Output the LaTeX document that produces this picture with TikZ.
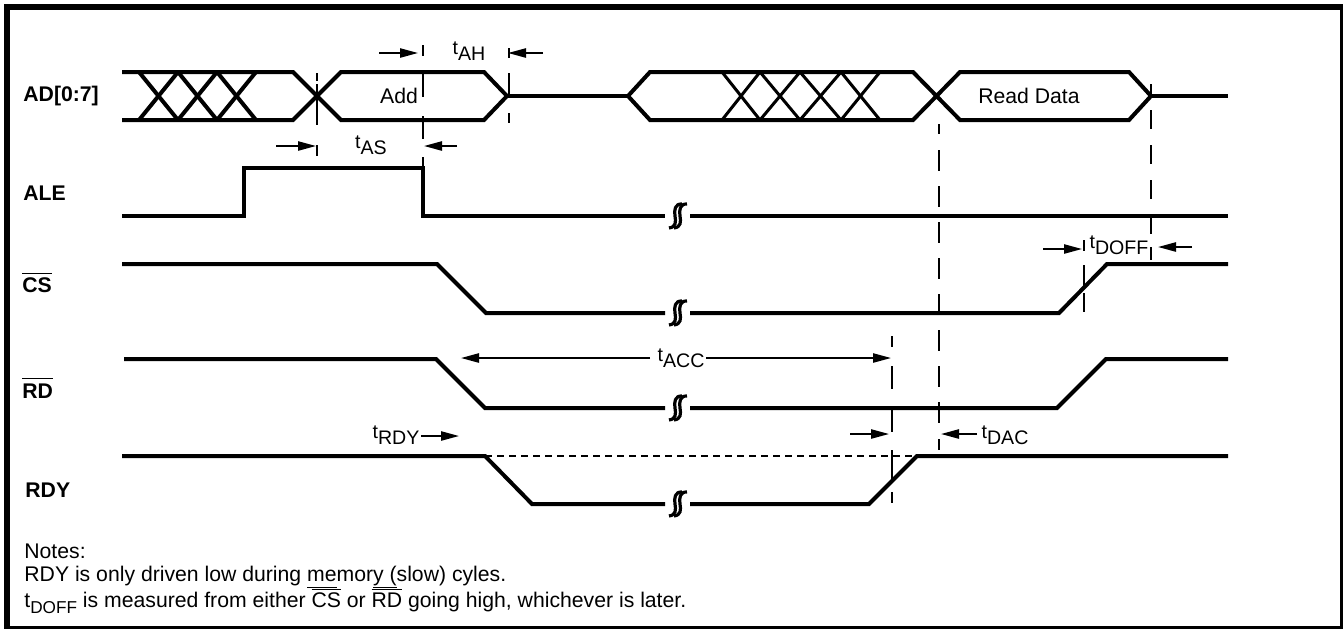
\documentclass[tikz,border=0pt]{standalone}
\usepackage{fontspec}
\setmainfont{Liberation Sans}
\usetikzlibrary{arrows.meta}

\newcommand{\tsub}[1]{t\raisebox{-0.32em}{#1}}
\newcommand{\olin}[2][0.86em]{\setbox0=\hbox{#2}\rlap{\rule[#1]{\wd0}{0.45pt}}\box0\relax}
\newcommand{\ulin}[1]{\setbox0=\hbox{#1}\rlap{\rule[-0.3em]{\wd0}{0.45pt}}\box0\relax}

\begin{document}
\begin{tikzpicture}[x=0.5pt, y=-0.5pt, line join=miter]

  % Colors and styles
  \tikzset{
    sig/.style={line width=2pt, black},
    guide/.style={line width=1pt, black},
    thinsig/.style={line width=1pt, black, dash pattern=on 3.3pt off 2.7pt},
    dim/.style={line width=0.9pt, -{Triangle[length=9pt,width=4.6pt]}},
    lab/.style={font=\bfseries\fontsize{10.6}{12}\selectfont, anchor=west, inner sep=0pt},
    txt/.style={font=\fontsize{9.8}{12}\selectfont, inner sep=0pt},
    body/.style={font=\fontsize{10.6}{12}\selectfont, inner sep=0pt},
    note/.style={font=\fontsize{10.6}{12}\selectfont, anchor=west, inner sep=0pt},
    breakmark/.pic={
      \draw[line width=1.6pt] (4,-12) .. controls (-3,-12.5) and (-4,-6) .. (-3,0) .. controls (-2,6) and (-2,11) .. (-9,12);
      \draw[line width=1.6pt] (9,-12) .. controls (2,-12.5) and (1,-6) .. (2,0) .. controls (3,6) and (3,11) .. (-4,12);
    },
  }

  \clip (0,0) rectangle (1343,628);
  \useasboundingbox (0,0) rectangle (1343,628);
  \fill[white] (0,0) rectangle (1343,628);

  % Frame
  \draw[line width=3pt] (7,7) rectangle (1343,629);

  % Guides
  \foreach \gx/\ya/\yb in {
    317/73/81, 317/84/125, 317/145/156,
    423/45/56, 423/73/97, 423/116/139, 423/157/168,
    509/48/58, 509/73/97, 509/113/123,
    939/124/134, 939/150/171, 939/186/207, 939/222/243, 939/258/279, 939/294/312,
    939/330/351, 939/366/387, 939/402/423, 939/439/450,
    892/336/347, 892/366/389, 892/410/432, 892/450/482, 892/492/503,
    1151/84/98, 1151/110/129, 1151/145/164, 1151/180/199, 1151/217/234, 1151/247/260,
    1084/240/251, 1084/265/287, 1084/293/312} {
    \draw[guide] (\gx,\ya) -- (\gx,\yb);
  }

  % AD[0:7]
  \draw[sig] (122,72) -- (293,72) -- (341,120) -- (484,120) -- (507,96) -- (484,72) -- (341,72) -- (293,120) -- (122,120);
  \foreach \xa/\xb in {139/178, 178/217, 217/256} {
    \draw[sig] (\xa,72) -- (\xb,120);
    \draw[sig] (\xb,72) -- (\xa,120);
  }
  \draw[sig] (507,96) -- (628,96);
  \draw[sig] (628,96) -- (650,72) -- (913,72) -- (960,120) -- (1129,120) -- (1151,96) -- (1129,72) -- (960,72) -- (913,120) -- (650,120) -- cycle;
  \foreach \xa/\xb in {722/760, 760/800, 800/841, 841/880} {
    \draw[line width=1.5pt] (\xa,72) -- (\xb,120);
    \draw[line width=1.5pt] (\xb,72) -- (\xa,120);
  }
  \draw[sig] (1151,96) -- (1228,96);

  % ALE
  \draw[sig] (122,216) -- (244,216) -- (244,168) -- (423,168) -- (423,216) -- (665,216);
  \draw[sig] (690,216) -- (1228,216);
  \pic at (678,216) {breakmark};

  % CS
  \draw[sig] (122,264) -- (437,264) -- (486,313) -- (665,313);
  \draw[sig] (690,313) -- (1059,313) -- (1107,264) -- (1228,264);
  \pic at (678,313) {breakmark};

  % RD
  \draw[sig] (124,359) -- (436,359) -- (485,408) -- (665,408);
  \draw[sig] (690,408) -- (1057,408) -- (1106,359) -- (1228,359);
  \pic at (678,408) {breakmark};

  % RDY
  \draw[sig] (122,456) -- (485,456) -- (532,504) -- (665,504);
  \draw[sig] (690,504) -- (869,504) -- (917,456) -- (1228,456);
  \draw[thinsig] (485,456) -- (917,456);
  \pic at (678,504) {breakmark};

  % Dimension arrows
  \draw[dim] (379,53) -- (418,53);
  \draw[dim] (543,53) -- (508,53);
  \draw[dim] (276,146) -- (316,146);
  \draw[dim] (457,146) -- (424,146);
  \draw[dim] (650,358) -- (461,358);
  \draw[dim] (706,358) -- (891,358);
  \draw[dim] (421,436) -- (459,436);
  \draw[dim] (850,434) -- (889,434);
  \draw[dim] (977,434) -- (941,434);
  \draw[dim] (1043,249) -- (1082,249);
  \draw[dim] (1192,247) -- (1158,247);

  % Timing labels
  \node[txt] (tAH) at (469,51) {\tsub{AH}};
  \node[txt] (tAS) at (371,145) {\tsub{AS}};
  \node[txt] (tACC) at (681,358) {\tsub{ACC}};
  \node[txt] (tRDY) at (396,435) {\tsub{RDY}};
  \node[txt] (tDAC) at (1005,435) {\tsub{DAC}};
  \node[txt] (tDOFF) at (1119,245) {\tsub{DOFF}};
  \node[body] (add) at (399,96) {Add};
  \node[body] (data) at (1029,96) {Read Data};

  % Signal names
  \node[lab] (adname) at (23,96) {AD[0:7]};
  \node[lab] (alename) at (23,193) {ALE};
  \node[lab] (csname) at (22,283) {\olin[0.9em]{CS}};
  \node[lab] (rdname) at (22,388) {\olin[0.9em]{RD}};
  \node[lab] (rdyname) at (25,490) {RDY};

  % Notes
  \node[note] (notehead) at (24,551) {Notes:};
  \node[note] (noteone) at (24,577) {RDY is only driven low during \ulin{me}mor\ulin{y (}slow) cyles.};
  \node[note] (notetwo) at (24,601) {t{\fontsize{8.6}{10}\selectfont\raisebox{-0.32em}{DOFF}} is measured from either \olin{CS} or \olin{RD} going high, whichever is later.};

\end{tikzpicture}
\end{document}
